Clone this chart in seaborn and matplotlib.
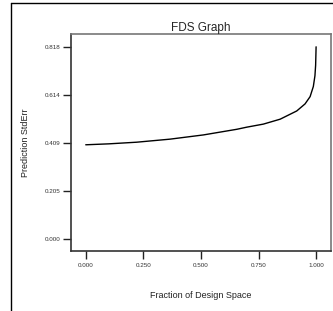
import matplotlib
matplotlib.use("Agg")
import matplotlib.pyplot as plt
import seaborn as sns
import pandas as pd
from matplotlib.lines import Line2D

sns.set_style("white")
plt.rcParams['font.family'] = ['Liberation Sans', 'DejaVu Sans']

fraction = [0.0, 0.10, 0.221, 0.366, 0.511, 0.656, 0.699, 0.771, 0.844, 0.916, 0.952, 0.974, 0.988, 0.995, 0.998, 1.0]
stderr = [0.401, 0.405, 0.412, 0.425, 0.443, 0.467, 0.476, 0.489, 0.510, 0.545, 0.575, 0.606, 0.649, 0.695, 0.740, 0.818]
xticks = [0.0, 0.25, 0.5, 0.75, 1.0]
xticklabels = ["0.000", "0.250", "0.500", "0.750", "1.000"]
yticks = [0.0, 0.2045, 0.409, 0.6135, 0.818]
yticklabels = ["0.000", "0.205", "0.409", "0.614", "0.818"]

df = pd.DataFrame({"Fraction of Design Space": fraction, "Prediction StdErr": stderr})

fig = plt.figure(figsize=(3.33, 3.11), dpi=100)
ax = fig.add_axes([0.2132, 0.193, 0.781, 0.698])
sns.lineplot(data=df, x="Fraction of Design Space", y="Prediction StdErr", ax=ax,
             color="black", linewidth=1.0)

ax.set_xlim(-0.064, 1.065)
ax.set_ylim(-0.051, 0.873)
ax.set_xticks(xticks)
ax.set_xticklabels(xticklabels, fontsize=4.5)
ax.set_yticks(yticks)
ax.set_yticklabels(yticklabels, fontsize=4.5)
ax.tick_params(axis="both", which="major", bottom=True, left=True, direction="out",
               length=5.5, width=1.0, color="#222222", labelcolor="#333333")
ax.tick_params(axis="y", pad=2)
ax.tick_params(axis="x", pad=3)

for s in ["left", "bottom"]:
    ax.spines[s].set_color("#333333")
    ax.spines[s].set_linewidth(1.2)
for s in ["top", "right"]:
    ax.spines[s].set_color("#777777")
    ax.spines[s].set_linewidth(1.2)

ax.set_title("FDS Graph", fontsize=8.5, pad=2)
ax.set_xlabel("Fraction of Design Space", fontsize=6.5, labelpad=17, color="#222222")
ax.set_ylabel("Prediction StdErr", fontsize=6.5, labelpad=11, color="#222222")

# outer frame (left and top lines)
fig.add_artist(Line2D([11/333, 11/333], [0, 1 - 3/311], transform=fig.transFigure, color="black", linewidth=1.0))
fig.add_artist(Line2D([11/333, 1], [1 - 3/311, 1 - 3/311], transform=fig.transFigure, color="black", linewidth=1.0))

fig.savefig("out.png", dpi=100)
